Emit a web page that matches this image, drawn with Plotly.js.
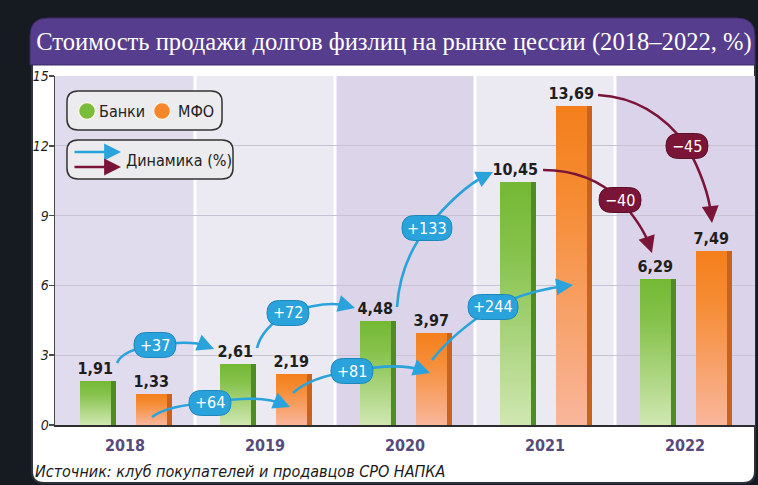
<!DOCTYPE html>
<html>
<head>
<meta charset="utf-8">
<script src="https://cdn.plot.ly/plotly-3.0.1.min.js"></script>
<style>
  html, body { margin: 0; padding: 0; background: #161b22; }
  #chart { width: 758px; height: 485px; }
</style>
</head>
<body>
<div id="chart"></div>
<script>
// ---------------- data ----------------
const years = ['2018', '2019', '2020', '2021', '2022'];
const seriesNames = ['Банки', 'МФО'];
const banks = [1.91, 2.61, 4.48, 10.45, 6.29];
const mfo = [1.33, 2.19, 3.97, 13.69, 7.49];
const yTicks = [0, 3, 6, 9, 12, 15];
const bankChange = ['+37', '+72', '+133', '\u221240'];
const mfoChange = ['+64', '+81', '+244', '\u221245'];
const dynamicsLabel = 'Динамика (%)';
const titleText = 'Стоимость продажи долгов физлиц на рынке цессии (2018\u20132022, %)';
const sourceText = 'Источник: клуб покупателей и продавцов СРО НАПКА';

// ---------------- geometry / style ----------------
const W = 758, H = 485;
const M = { l: 55, r: 3, t: 76, b: 60 };
const plotW = W - M.l - M.r, plotH = H - M.t - M.b;
const ppx = plotW / 5, ppy = plotH / 15;
const px2p = px => (px - M.l) / plotW;
const py2p = py => (H - M.b - py) / plotH;

const NARROW = '"Liberation Sans Narrow", "DejaVu Sans Condensed", "Roboto", sans-serif';
const SERIF = '"Liberation Serif", "DejaVu Serif", serif';
const BLUE = '#2aa3dc', MAROON = '#7b1538';
const idx = years.map((_, i) => i);

function f(v) { return (+v).toFixed(4); }
// rounded rectangle in pixel space converted to paper coords, radii [tl,tr,br,bl]
function roundRectPaper(x0, y0, x1, y1, rr) {
  const [tl, tr, br, bl] = rr;
  const P = (x, y) => f(px2p(x)) + ',' + f(py2p(y));
  return 'M' + P(x0 + tl, y0) + ' L' + P(x1 - tr, y0) + ' Q' + P(x1, y0) + ' ' + P(x1, y0 + tr) +
    ' L' + P(x1, y1 - br) + ' Q' + P(x1, y1) + ' ' + P(x1 - br, y1) +
    ' L' + P(x0 + bl, y1) + ' Q' + P(x0, y1) + ' ' + P(x0, y1 - bl) +
    ' L' + P(x0, y0 + tl) + ' Q' + P(x0, y0) + ' ' + P(x0 + tl, y0) + ' Z';
}
function pillPath(w, h) {
  const a = w / 2, b = h / 2, r = b;
  return `M${-a + r},${-b} L${a - r},${-b} Q${a},${-b} ${a},0 Q${a},${b} ${a - r},${b} L${-a + r},${b} Q${-a},${b} ${-a},0 Q${-a},${-b} ${-a + r},${-b} Z`;
}

// curved arrows: [start, ctrl1, pill centre, ctrl2, tip] in (category index, value) units
const arrows = [
  { lab: bankChange[0], col: BLUE, pts: [[-0.057, 2.665], [-0.021, 3.223], [0.214, 3.438], [0.479, 3.653], [0.636, 3.266]] },
  { lab: mfoChange[0], col: BLUE, pts: [[0.193, 0.344], [0.307, 0.860], [0.607, 0.946], [0.95, 1.332], [1.179, 0.774]] },
  { lab: bankChange[1], col: BLUE, pts: [[0.943, 3.309], [0.979, 4.169], [1.164, 4.814], [1.436, 5.372], [1.643, 5.029]] },
  { lab: mfoChange[1], col: BLUE, pts: [[1.2, 1.375], [1.321, 2.063], [1.621, 2.321], [1.95, 2.708], [2.179, 2.235]] },
  { lab: bankChange[2], col: BLUE, pts: [[1.943, 5.072], [1.964, 7.006], [2.157, 8.467], [2.393, 10.186], [2.629, 10.874]] },
  { lab: mfoChange[2], col: BLUE, pts: [[2.193, 2.794], [2.336, 3.911], [2.629, 5.072], [2.893, 5.802], [3.2, 6.017]] },
  { lab: bankChange[3], col: MAROON, pts: [[2.986, 10.96], [3.321, 10.96], [3.536, 9.67], [3.7, 8.553], [3.764, 7.392]] },
  { lab: mfoChange[3], col: MAROON, pts: [[3.379, 14.183], [3.764, 14.054], [4.014, 11.991], [4.164, 10.315], [4.193, 8.682]] }
];

// ---------------- traces ----------------
const GW = 0.218, SW = 0.036;
const labelFont = { family: NARROW, size: 16, color: '#1e1e1e', weight: 'bold' };
const data = [
  { type: 'bar', x: idx, y: banks, name: seriesNames[0], offset: -0.321, width: GW,
    marker: { color: '#7dbd3d', line: { width: 0 } },
    texttemplate: '%{y:.2f}', textposition: 'outside', constraintext: 'none', cliponaxis: false,
    textfont: labelFont, hoverinfo: 'none' },
  { type: 'bar', x: idx, y: mfo, name: seriesNames[1], offset: 0.079, width: GW,
    marker: { color: '#f5862a', line: { width: 0 } },
    texttemplate: '%{y:.2f}', textposition: 'outside', constraintext: 'none', cliponaxis: false,
    textfont: labelFont, hoverinfo: 'none' },
  { type: 'bar', x: idx, y: banks, offset: -0.321 + GW, width: SW,
    marker: { color: '#4f8c24', line: { width: 0 } }, hoverinfo: 'none' },
  { type: 'bar', x: idx, y: mfo, offset: 0.079 + GW, width: SW,
    marker: { color: '#c9621c', line: { width: 0 } }, hoverinfo: 'none' },
  { type: 'scatter', mode: 'markers', x: idx, y: years.map(() => -0.2), cliponaxis: false,
    marker: { symbol: 'triangle-down', size: 10, color: '#1f1f1f' }, hoverinfo: 'none' }
];

// ---------------- shapes ----------------
const shapes = [];
// panel
shapes.push({ type: 'path', xref: 'paper', yref: 'paper', layer: 'below',
  path: roundRectPaper(32, 62, 755, 483, [0, 0, 12, 12]), fillcolor: '#ffffff', line: { color: '#2c313b', width: 2 } });
shapes.push({ type: 'path', xref: 'paper', yref: 'paper', layer: 'below',
  path: roundRectPaper(30, 18, 755, 65, [18, 18, 0, 0]), fillcolor: '#573d8d', line: { color: '#3b2a66', width: 1 } });
// column bands
const bandCols = ['#e0dbed', '#ebe9f2', '#dcd5ea', '#ebe9f2', '#dbd3e9'];
idx.forEach(i => shapes.push({ type: 'rect', xref: 'x', yref: 'y', layer: 'below',
  x0: i - 0.5, x1: i + 0.5, y0: 0, y1: 15, fillcolor: bandCols[i], line: { width: 0 } }));
idx.slice(0, 4).forEach(i => shapes.push({ type: 'line', xref: 'x', yref: 'y', layer: 'below',
  x0: i + 0.5, x1: i + 0.5, y0: 0, y1: 15, line: { color: '#ffffff', width: 3 } }));

const annotations = [];
// arrows
arrows.forEach(a => {
  const [S, C1, P, C2, E] = a.pts;
  let dx = (E[0] - C2[0]) * ppx, dy = -(E[1] - C2[1]) * ppy;
  const len = Math.hypot(dx, dy); dx /= len; dy /= len;
  const back = 8;
  const Ex = E[0] - dx * back / ppx, Ey = E[1] + dy * back / ppy;
  shapes.push({ type: 'path', xref: 'x', yref: 'y', layer: 'above',
    path: `M${S[0]},${S[1]} Q${C1[0]},${C1[1]} ${P[0]},${P[1]} Q${C2[0]},${C2[1]} ${f(Ex)},${f(Ey)}`,
    line: { color: a.col, width: 2.6 } });
  annotations.push({ x: E[0], y: E[1], xref: 'x', yref: 'y', text: '', showarrow: true,
    ax: -dx * 16, ay: -dy * 16, arrowhead: 2, arrowsize: 1.3, arrowwidth: 2.6, arrowcolor: a.col, standoff: 0 });
});
arrows.forEach(a => {
  const P = a.pts[2];
  const w = a.lab.length > 3 ? 50 : 42;
  shapes.push({ type: 'path', xref: 'x', yref: 'y', layer: 'above', xsizemode: 'pixel', ysizemode: 'pixel',
    xanchor: P[0], yanchor: P[1], path: pillPath(w, 25), fillcolor: a.col,
    line: { color: a.col === BLUE ? '#1d87bb' : '#5c0f29', width: 1 } });
  annotations.push({ x: P[0], y: P[1], xref: 'x', yref: 'y', text: a.lab, showarrow: false,
    font: { family: NARROW, size: 16, color: '#ffffff' } });
});

// legend boxes
shapes.push({ type: 'path', xref: 'paper', yref: 'paper', layer: 'above',
  path: roundRectPaper(67, 91, 222, 130, [11, 11, 11, 11]), fillcolor: '#ececee', line: { color: '#333333', width: 1.5 } });
shapes.push({ type: 'path', xref: 'paper', yref: 'paper', layer: 'above',
  path: roundRectPaper(67, 140, 233, 179, [11, 11, 11, 11]), fillcolor: '#ececee', line: { color: '#333333', width: 1.5 } });
[[87, '#7cbc3c'], [162, '#f5862a']].forEach(([cx, c]) => shapes.push({ type: 'circle', xref: 'paper', yref: 'paper', layer: 'above',
  x0: px2p(cx - 8.5), x1: px2p(cx + 8.5), y0: py2p(111 + 8.5), y1: py2p(111 - 8.5), fillcolor: c, line: { color: '#fdf3e6', width: 1.5 } }));

const legFont = { family: NARROW, size: 16, color: '#222222' };
annotations.push({ xref: 'paper', yref: 'paper', x: px2p(97), y: py2p(111), xanchor: 'left', yanchor: 'middle',
  text: seriesNames[0], showarrow: false, font: legFont });
annotations.push({ xref: 'paper', yref: 'paper', x: px2p(176), y: py2p(111), xanchor: 'left', yanchor: 'middle',
  text: seriesNames[1], showarrow: false, font: legFont });
annotations.push({ xref: 'paper', yref: 'paper', x: px2p(124), y: py2p(160), xanchor: 'left', yanchor: 'middle',
  text: dynamicsLabel, showarrow: false, font: legFont });
[[152, BLUE], [167, MAROON]].forEach(([yy, c]) => annotations.push({ xref: 'paper', yref: 'paper',
  x: px2p(121), y: py2p(yy), text: '', showarrow: true, ax: -48, ay: 0, arrowhead: 2, arrowsize: 1.3,
  arrowwidth: 2.6, arrowcolor: c, standoff: 0 }));

// source
annotations.push({ xref: 'paper', yref: 'paper', x: px2p(33), y: py2p(471), xanchor: 'left', yanchor: 'middle',
  text: sourceText, showarrow: false, font: { family: NARROW, size: 16, color: '#1a1a1a', style: 'italic' } });

const layout = {
  width: W, height: H, margin: M,
  paper_bgcolor: '#161b22', plot_bgcolor: 'rgba(0,0,0,0)',
  separators: ', ',
  showlegend: false, barmode: 'overlay', bargap: 0,
  title: { text: titleText, x: 394 / W, xanchor: 'center', y: 1 - 41 / H, yanchor: 'middle',
    font: { family: SERIF, size: 24.6, color: '#ffffff' } },
  xaxis: { range: [-0.5, 4.5], tickvals: idx, ticktext: years, showgrid: false, zeroline: false,
    showline: true, linecolor: '#2d2d2d', linewidth: 2, ticks: '', ticklabelstandoff: 5,
    tickfont: { family: NARROW, size: 16, color: '#564a7e', weight: 'bold' }, fixedrange: true },
  yaxis: { range: [0, 15], tickvals: yTicks, showgrid: true, gridcolor: '#c8c3d4', gridwidth: 1,
    zeroline: false, showline: true, linecolor: '#4a4a4a', linewidth: 1.5, ticks: 'outside', ticklen: 5,
    tickcolor: '#4a4a4a', tickwidth: 1.5, ticklabelstandoff: -3,
    tickfont: { family: NARROW, size: 14, color: '#1f1f1f', style: 'italic' }, fixedrange: true },
  shapes: shapes, annotations: annotations
};

Plotly.newPlot('chart', data, layout, { staticPlot: true, displayModeBar: false }).then(gd => {
  const ns = 'http://www.w3.org/2000/svg';
  const svg = gd.querySelector('svg.main-svg');
  let defs = svg.querySelector('defs');
  if (!defs) { defs = document.createElementNS(ns, 'defs'); svg.insertBefore(defs, svg.firstChild); }
  function grad(id, stops) {
    const g = document.createElementNS(ns, 'linearGradient');
    g.setAttribute('id', id); g.setAttribute('x1', '0'); g.setAttribute('y1', '0'); g.setAttribute('x2', '0'); g.setAttribute('y2', '1');
    stops.forEach(([o, c]) => { const s = document.createElementNS(ns, 'stop'); s.setAttribute('offset', o); s.setAttribute('stop-color', c); g.appendChild(s); });
    defs.appendChild(g);
  }
  grad('barGradGreen', [[0, '#74b834'], [0.3, '#86c24c'], [1, '#d0e7b2']]);
  grad('barGradOrange', [[0, '#f47f1c'], [0.3, '#f68c34'], [1, '#f9b69c']]);
  const traces = gd.querySelectorAll('.barlayer .trace');
  if (traces[0]) traces[0].querySelectorAll('path').forEach(p => { p.style.fill = 'url(#barGradGreen)'; });
  if (traces[1]) traces[1].querySelectorAll('path').forEach(p => { p.style.fill = 'url(#barGradOrange)'; });
});
</script>
</body>
</html>
